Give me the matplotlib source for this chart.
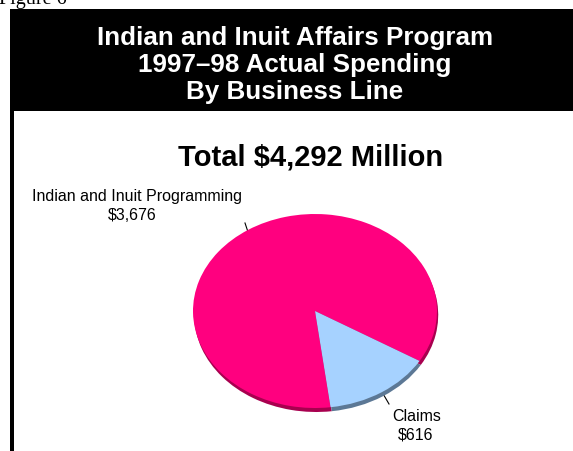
import matplotlib.pyplot as plt
from matplotlib.patches import Rectangle

# data
labels = ['Indian and Inuit Programming', 'Claims']
values = [3676, 616]
value_text = ['$3,676', '$616']
colors = ['#FF007F', '#A6D2FF']
shadow_colors = ['#A8004F', '#5C7895']
header_lines = ['Indian and Inuit Affairs Program',
                '1997\u201398 Actual Spending',
                'By Business Line']
total_text = 'Total $4,292 Million'

W, H = 573, 452
plt.rcParams['font.family'] = ['Liberation Sans', 'DejaVu Sans']
fig = plt.figure(figsize=(W / 100, H / 100), dpi=100)

# page layer in pixel coords
bg = fig.add_axes([0, 0, 1, 1])
bg.set_xlim(0, W)
bg.set_ylim(H, 0)
bg.axis('off')

bg.text(-1, 4, 'Figure 6', family='Liberation Serif', fontsize=14.5,
        va='baseline', ha='left')
bg.add_patch(Rectangle((10, 10), W - 10, 102, color='black', lw=0))
bg.add_patch(Rectangle((10, 10), 4, H, color='black', lw=0))
for y, line in zip([45, 72, 99], header_lines):
    bg.text(295, y, line, color='white', fontsize=18.7, fontweight='bold',
            ha='center', va='baseline')
bg.text(311, 166, total_text, fontsize=21, fontweight='bold',
        ha='center', va='baseline')

# labels and leader lines
bg.text(137, 201, labels[0], fontsize=11.5, ha='center', va='baseline')
bg.text(132, 220, value_text[0], fontsize=11.5, ha='center', va='baseline')
bg.plot([245, 248], [224, 233], color='black', lw=0.8)
bg.text(417, 421, labels[1], fontsize=11.5, ha='center', va='baseline')
bg.text(416, 440, value_text[1], fontsize=11.5, ha='center', va='baseline')
bg.plot([382, 389], [393, 405], color='black', lw=0.8)

# pie as an ellipse
cx, cy, rx, ry = 315, 312, 122, 97
pax = fig.add_axes([(cx - rx) / W, (H - cy - ry) / H, 2 * rx / W, 2 * ry / H])
depth = 4 / ry
sh, _ = pax.pie(values, colors=shadow_colors, startangle=-31, center=(0.01, -depth),
                radius=1, wedgeprops={'linewidth': 0})
wd, _ = pax.pie(values, colors=colors, startangle=-31, radius=1,
                wedgeprops={'linewidth': 0})
for w in sh + wd:
    w.set_clip_on(False)
pax.set_aspect('auto')
pax.set_xlim(-1, 1)
pax.set_ylim(-1, 1)
pax.axis('off')

fig.savefig('out.png', dpi=100)
